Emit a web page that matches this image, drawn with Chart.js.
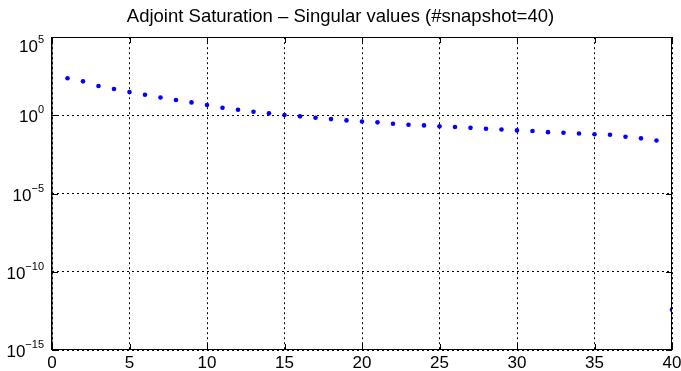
<!DOCTYPE html>
<html>
<head>
<meta charset="utf-8">
<script src="https://cdn.jsdelivr.net/npm/chart.js@4.4.0/dist/chart.umd.min.js"></script>
<style>
  html, body { margin: 0; padding: 0; background: #fff; }
  #wrap { width: 681px; height: 371px; }
</style>
</head>
<body>
<div id="wrap"><canvas id="svChart" width="681" height="371"></canvas></div>
<script>
// Singular values
const indices = [1, 2, 3, 4, 5, 6, 7, 8, 9, 10, 11, 12, 13, 14, 15, 16, 17, 18, 19, 20,
  21, 22, 23, 24, 25, 26, 27, 28, 29, 30, 31, 32, 33, 34, 35, 36, 37, 38, 39, 40];
const singularValues = [235, 150, 76, 49, 31, 21, 14, 9.6, 6.8, 4.6,
  3.1, 2.3, 1.7, 1.35, 1.05, 0.87, 0.71, 0.58, 0.48, 0.41,
  0.36, 0.29, 0.25, 0.23, 0.20, 0.18, 0.16, 0.14, 0.126, 0.11,
  0.10, 0.085, 0.078, 0.07, 0.063, 0.058, 0.043, 0.034, 0.025, 3.8e-13];
const xTicks = [0, 5, 10, 15, 20, 25, 30, 35, 40];
const yTicks = [1e-15, 1e-10, 1e-5, 1e0, 1e5];

const points = indices.map((x, i) => ({ x: x, y: singularValues[i] }));

// draws the box, inward tick marks and the 10^n labels
const matlabAxes = {
  id: 'matlabAxes',
  afterDraw(chart) {
    const c = chart.ctx;
    const a = chart.chartArea;
    const xs = chart.scales.x, ys = chart.scales.y;
    const L = Math.round(a.left), R = Math.round(a.right);
    const T = Math.round(a.top), B = Math.round(a.bottom);
    c.save();
    c.fillStyle = '#000';
    // box
    c.fillRect(L - 1, T, R - L + 1, 1);
    c.fillRect(L - 1, B - 1, R - L + 1, 1);
    c.fillRect(L - 1, T, 1.5, B - T);
    c.fillRect(R - 1, T, 1, B - T);
    // inward ticks
    xTicks.forEach(v => {
      const px = Math.round(xs.getPixelForValue(v));
      c.fillRect(px, B - 6, 1, 6);
      c.fillRect(px, T, 1, 6);
    });
    yTicks.forEach(v => {
      const py = Math.round(ys.getPixelForValue(v));
      c.fillRect(L, py, 6, 1);
      c.fillRect(R - 6, py, 6, 1);
    });

    // 10^n labels
    c.textBaseline = 'alphabetic';
    yTicks.forEach(v => {
      const e = Math.round(Math.log10(v));
      const expTxt = e < 0 ? '\u2212' + (-e) : String(e);
      const cy = Math.max(ys.getPixelForValue(v) + 1, T + 9);
      c.font = '11px "Liberation Sans", Arial, sans-serif';
      const ew = c.measureText(expTxt).width;
      const right = 44;
      c.textAlign = 'left';
      c.fillText(expTxt, right - ew, cy - 3);
      c.font = '17px "Liberation Sans", Arial, sans-serif';
      c.textAlign = 'right';
      c.fillText('10', right - ew, cy + 6);
    });
    c.restore();
  }
};

const ctx = document.getElementById('svChart').getContext('2d');
new Chart(ctx, {
  type: 'scatter',
  data: {
    datasets: [{
      label: 'singular values',
      data: points,
      backgroundColor: '#0000ff',
      borderColor: '#0000ff',
      pointRadius: 2.3,
      pointHoverRadius: 2.3,
      borderWidth: 0
    }]
  },
  plugins: [matlabAxes],
  options: {
    responsive: false,
    animation: false,
    layout: { padding: 0 },
    plugins: {
      legend: { display: false },
      tooltip: { enabled: false },
      title: {
        display: true,
        text: 'Adjoint Saturation \u2013 Singular values (#snapshot=40)',
        color: '#000',
        font: { family: '"Liberation Sans", Arial, sans-serif', size: 18.5, weight: 'normal' },
        padding: { top: 6, bottom: 9 }
      }
    },
    scales: {
      x: {
        type: 'linear',
        min: 0,
        max: 40,
        afterBuildTicks: s => { s.ticks = xTicks.map(v => ({ value: v })); },
        afterFit: s => { s.height = 21; s.paddingLeft = 0; s.paddingRight = 9; },
        grid: {
          color: '#000',
          lineWidth: 1,
          drawTicks: false
        },
        border: { display: false, dash: [2, 3] },
        ticks: {
          color: '#000',
          padding: 3,
          maxRotation: 0,
          font: { family: '"Liberation Sans", Arial, sans-serif', size: 17 }
        }
      },
      y: {
        type: 'logarithmic',
        min: 1e-15,
        max: 1e5,
        afterBuildTicks: s => { s.ticks = yTicks.map(v => ({ value: v })); },
        afterFit: s => { s.width = 52; s.paddingTop = 0; s.paddingBottom = 0; },
        grid: {
          color: '#000',
          lineWidth: 1,
          drawTicks: false
        },
        border: { display: false, dash: [2, 3] },
        ticks: {
          callback: () => '',
          font: { size: 17 }
        }
      }
    }
  }
});
</script>
</body>
</html>
